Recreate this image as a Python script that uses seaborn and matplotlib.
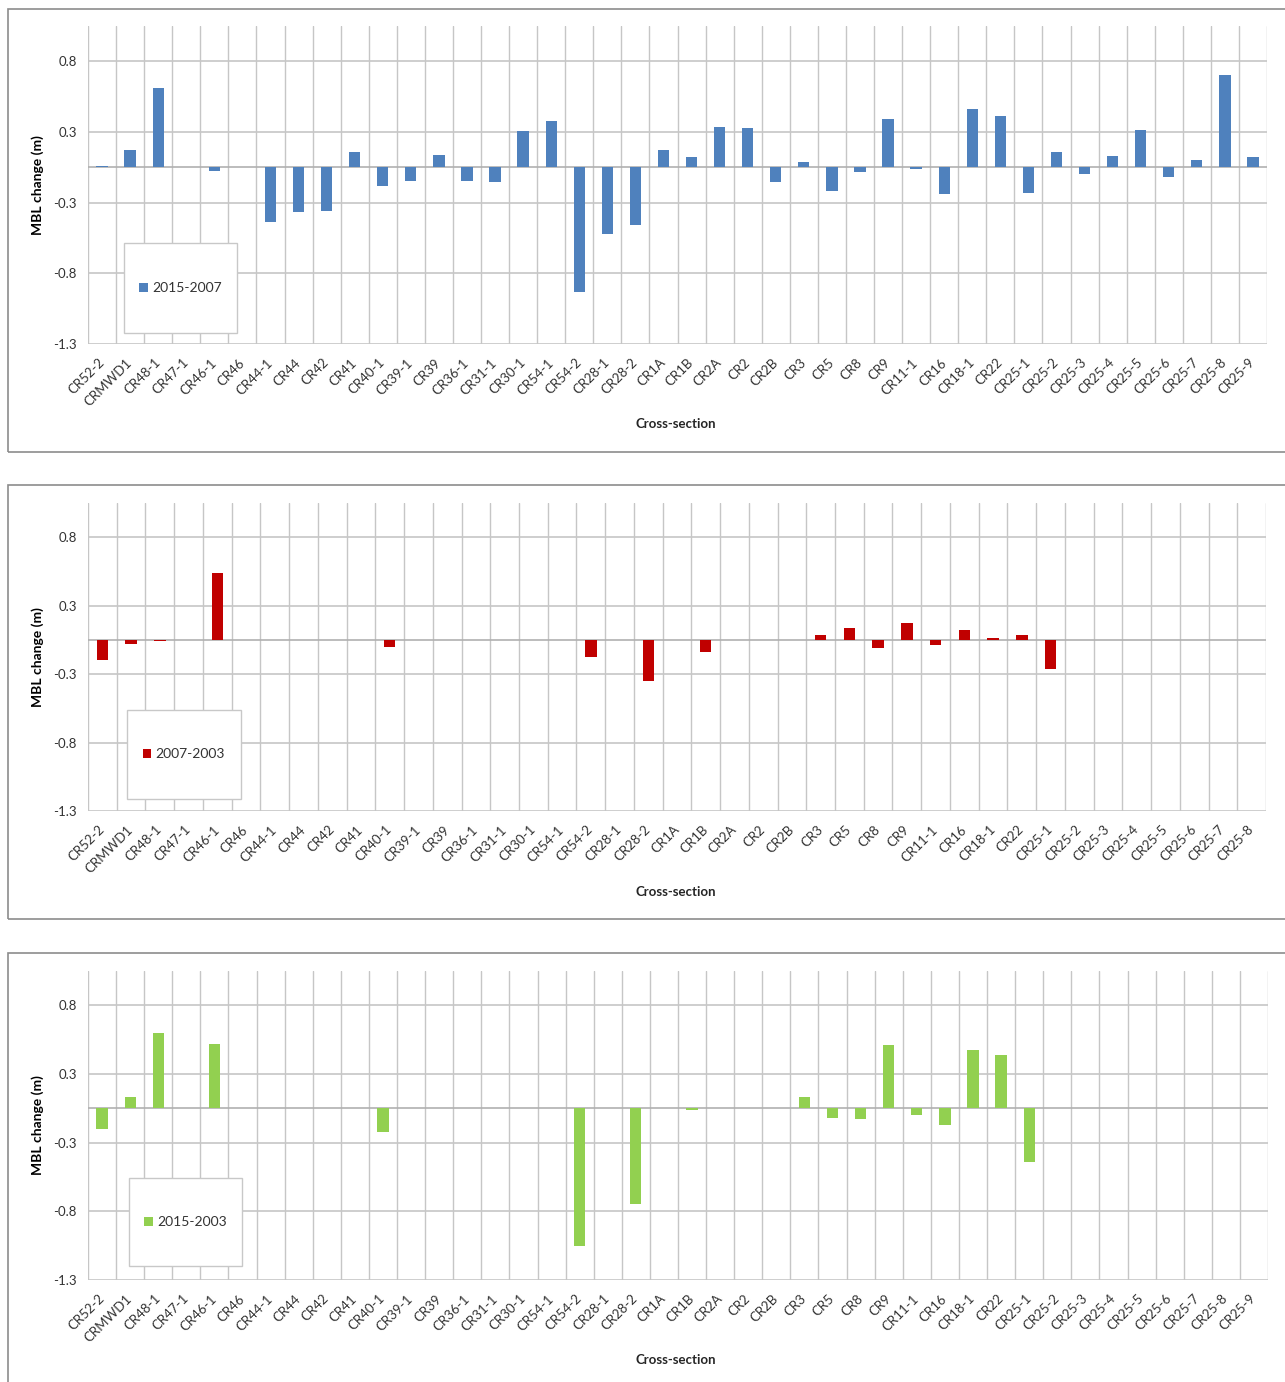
import numpy as np
import pandas as pd
import matplotlib
matplotlib.use("Agg")
import matplotlib.pyplot as plt
from matplotlib.patches import Rectangle
import seaborn as sns

nan = np.nan

# sezioni trasversali (asse x)
sections = ["CR52-2", "CRMWD1", "CR48-1", "CR47-1", "CR46-1", "CR46", "CR44-1", "CR44",
            "CR42", "CR41", "CR40-1", "CR39-1", "CR39", "CR36-1", "CR31-1", "CR30-1",
            "CR54-1", "CR54-2", "CR28-1", "CR28-2", "CR1A", "CR1B", "CR2A", "CR2",
            "CR2B", "CR3", "CR5", "CR8", "CR9", "CR11-1", "CR16", "CR18-1", "CR22",
            "CR25-1", "CR25-2", "CR25-3", "CR25-4", "CR25-5", "CR25-6", "CR25-7",
            "CR25-8", "CR25-9"]
sections_mid = sections[:-1]  # il grafico centrale finisce a CR25-8

# variazione MBL (m)
mbl_2015_2007 = [0.01, 0.12, 0.56, nan, -0.025, nan, -0.39, -0.315, -0.31, 0.11,
                 -0.135, -0.10, 0.085, -0.10, -0.105, 0.255, 0.33, -0.885, -0.475, -0.41,
                 0.12, 0.07, 0.285, 0.28, -0.105, 0.04, -0.17, -0.03, 0.34, -0.01,
                 -0.19, 0.41, 0.36, -0.18, 0.11, -0.05, 0.08, 0.265, -0.065, 0.05,
                 0.655, 0.07]
mbl_2007_2003 = [-0.15, -0.03, -0.01, nan, 0.49, nan, nan, nan, nan, nan,
                 -0.05, nan, nan, nan, nan, nan, nan, -0.125, nan, -0.30,
                 nan, -0.085, nan, nan, nan, 0.035, 0.09, -0.06, 0.12, -0.04,
                 0.07, 0.015, 0.035, -0.215, nan, nan, nan, nan, nan, nan, nan]
mbl_2015_2003 = [-0.15, 0.08, 0.55, nan, 0.47, nan, nan, nan, nan, nan,
                 -0.175, nan, nan, nan, nan, nan, nan, -1.005, nan, -0.70,
                 nan, -0.012, nan, nan, nan, 0.08, -0.07, -0.08, 0.46, -0.045,
                 -0.12, 0.425, 0.39, -0.39, nan, nan, nan, nan, nan, nan, nan, nan]

ytick_values = [-1.25, -0.75, -0.25, 0.25, 0.75]
ytick_labels = ["-1.3", "-0.8", "-0.3", "0.3", "0.8"]

W, H = 1285, 1382
GRID = "#c6c6c6"
TXT = "#333333"
FONT = ["Lato", "DejaVu Sans"]


def px_box(x0, y0, x1, y1):
    """pixel (dall'alto) -> coordinate figura"""
    return [x0 / W, 1 - y1 / H, (x1 - x0) / W, (y1 - y0) / H]


def draw_panel(fig, cats, vals, color, label, ax_px, frame_px, legend_px, xlabel_y):
    ax = fig.add_axes(px_box(*ax_px))
    df = pd.DataFrame({"section": cats, "mbl": vals})
    sns.barplot(data=df, x="section", y="mbl", order=cats, color=color,
                width=0.4, errorbar=None, saturation=1, label=label,
                edgecolor="none", ax=ax, zorder=3)
    n = len(cats)
    ax.set_xlim(-0.5, n - 0.5)
    ax.set_ylim(-1.25, 1.0)
    ax.set_yticks(ytick_values)
    ax.set_yticklabels(ytick_labels, fontsize=9.5, color=TXT, family=FONT)
    ax.set_xticks(np.arange(n))
    ax.set_xticklabels(cats, rotation=45, ha="right", va="center",
                       rotation_mode="anchor", fontsize=9.5, color=TXT, family=FONT)
    ax.set_xticks(np.arange(n + 1) - 0.5, minor=True)
    ax.tick_params(axis="x", which="major", length=0, pad=12)
    ax.tick_params(axis="x", which="minor", length=0)
    ax.tick_params(axis="y", length=5, color=GRID, pad=3)
    ax.grid(axis="x", which="minor", color=GRID, linewidth=1)
    ax.grid(axis="y", which="major", color=GRID, linewidth=1.2)
    ax.grid(axis="x", which="major", visible=False)
    ax.axhline(0, color="#b0b0b0", linewidth=1.2, zorder=2)
    for s in ax.spines.values():
        s.set_visible(False)
    ax.set_axisbelow(True)
    ax.set_xlabel("")
    ax.set_ylabel("MBL change (m)", fontsize=10, fontweight="bold", family=FONT,
                  labelpad=7, color="black")
    fig.text(676 / W, 1 - xlabel_y / H, "Cross-section", ha="center", va="center",
             fontsize=9.5, fontweight="bold", family=FONT)

    # cornice esterna del grafico
    fb = px_box(*frame_px)
    fig.patches.append(Rectangle(fb[:2], fb[2], fb[3], transform=fig.transFigure,
                                 fill=False, edgecolor="#8c8c8c", linewidth=1.2, zorder=0))
    # riquadro legenda
    lb = px_box(*legend_px)
    ax.add_patch(Rectangle(lb[:2], lb[2], lb[3], transform=fig.transFigure,
                           facecolor="white", edgecolor="#c8c8c8", linewidth=1,
                           zorder=4, clip_on=False))
    leg = ax.legend(loc="center", bbox_to_anchor=lb, bbox_transform=fig.transFigure,
                    frameon=False, handlelength=0.6, handleheight=0.6,
                    handletextpad=0.3, prop={"family": FONT, "size": 10})
    leg.set_zorder(5)
    for t in leg.get_texts():
        t.set_color(TXT)
    return ax


sns.set_theme(style="white")
fig = plt.figure(figsize=(W / 100, H / 100), dpi=100)
fig.patch.set_facecolor("white")

draw_panel(fig, sections, mbl_2015_2007, "#4f81bd", "2015-2007",
           (88, 26, 1267, 344), (8, 9, 1295, 452), (124, 243, 237, 333), 424)
draw_panel(fig, sections_mid, mbl_2007_2003, "#c00000", "2007-2003",
           (88, 503, 1266, 811), (8, 485, 1295, 919), (127, 710, 241, 799), 892)
draw_panel(fig, sections, mbl_2015_2003, "#92d050", "2015-2003",
           (88, 971, 1268, 1280), (8, 953, 1295, 1400), (129, 1178, 242, 1266), 1360)

fig.savefig("out.png", dpi=100, facecolor="white")
